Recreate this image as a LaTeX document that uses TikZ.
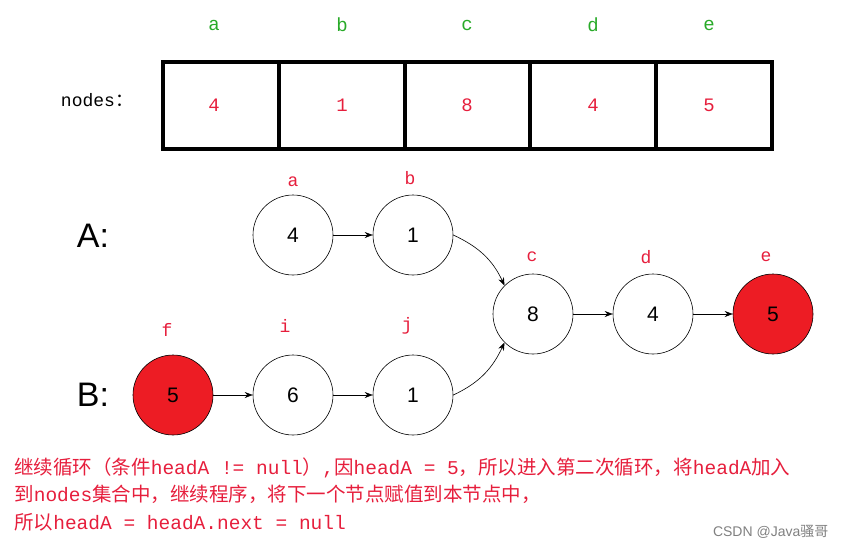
\documentclass[tikz,border=0pt]{standalone}
\usepackage{fontspec}
\setmainfont{Liberation Sans}
\setmonofont{Liberation Mono}
\newfontfamily\cjk{Noto Sans CJK SC}
\usetikzlibrary{positioning}
\usetikzlibrary{arrows.meta}
\definecolor{lblred}{RGB}{230,30,60}
\definecolor{lblgreen}{RGB}{40,170,40}
\definecolor{fillred}{RGB}{237,28,36}
\newcommand{\zh}[1]{{\cjk #1}}
\begin{document}
\begin{tikzpicture}[x=1pt,y=-1pt,->,>={Stealth[length=8pt,width=6pt]},semithick,
	list node/.style={circle,draw,minimum size=80pt,inner sep=0pt,font=\fontsize{21}{21}\selectfont},
	hot node/.style={list node,fill=fillred},
	tag/.style={text=lblred,font=\ttfamily\fontsize{18}{18}\selectfont},
	cell/.style={text=lblred,font=\ttfamily\fontsize{19}{19}\selectfont},
	letter/.style={text=lblgreen,font=\ttfamily\fontsize{19}{19}\selectfont}]
	
	\useasboundingbox (0,0) rectangle (848,550);
	
	% array
	\draw[-,line width=3.5pt] (163,62) rectangle (772,149);
	\foreach \x in {279,405,530,656}
	\draw[-,line width=3.5pt] (\x,62) -- (\x,149);
	\node[font=\ttfamily\fontsize{18}{18}\selectfont] (lbl) at (97,100) {nodes\zh{：}};
	\foreach \x/\l/\v in {214/a/4,342/b/1,467/c/8,593/d/4,709/e/5}{
		\node[letter] at (\x,25) {\l};
		\node[cell] at (\x,105) {\v};
	}
	
	% lists
	\node[font=\fontsize{34}{34}\selectfont] (la) at (93,236) {A:};
	\node[font=\fontsize{34}{34}\selectfont] (lb) at (93,395) {B:};
	\node[list node] (a) at (293,235) {4};
	\node[list node] (b) at (413,235) {1};
	\node[list node] (c) at (533,314) {8};
	\node[list node] (d) at (653,314) {4};
	\node[hot node] (e) at (773,314) {5};
	\node[hot node] (f) at (173,395) {5};
	\node[list node] (i) at (293,395) {6};
	\node[list node] (j) at (413,395) {1};
	
	\node[tag] at (293,182) {a};
	\node[tag] at (410,178) {b};
	\node[tag] at (532,257) {c};
	\node[tag] at (646,257) {d};
	\node[tag] at (766,257) {e};
	\node[tag] at (167,330) {f};
	\node[tag] at (285,326) {i};
	\node[tag] at (407,326) {j};
	
	\draw (a) -- (b);
	\draw (c) -- (d);
	\draw (d) -- (e);
	\draw (f) -- (i);
	\draw (i) -- (j);
	\draw (b.east) to[out=-25,in=115] (c.135);
	\draw (j.east) to[out=25,in=-115] (c.225);
	
	% note
	\node[anchor=west,text=lblred,font=\ttfamily\fontsize{19.5}{27.5}\selectfont,align=left,inner sep=0pt] (note) at (14,494)
	{\zh{继续循环（条件}headA != null\zh{）},\zh{因}headA = 5\zh{，所以进入第二次循环，将}headA\zh{加入}\\
	 \zh{到}nodes\zh{集合中，继续程序，将下一个节点赋值到本节点中，}\\
	 \zh{所以}headA = headA.next = null};
	\node[anchor=east,text=gray,font=\fontsize{14}{14}\selectfont] (mark) at (832,532) {CSDN @Java\zh{骚哥}};
\end{tikzpicture}
\end{document}
